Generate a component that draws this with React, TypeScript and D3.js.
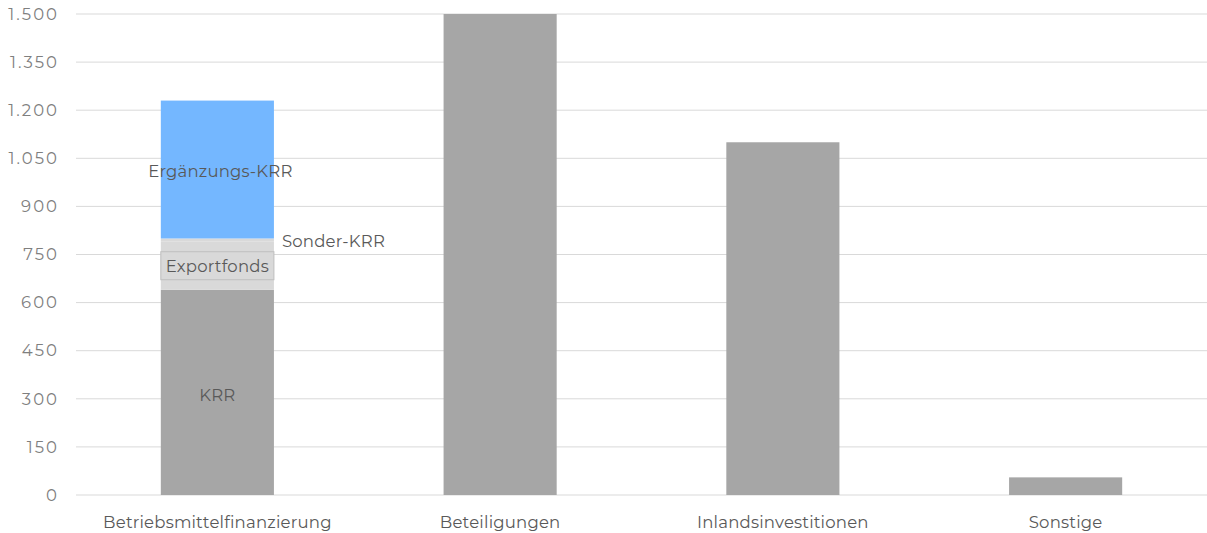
import React from "react";
import * as d3 from "d3";

const categories = ["Betriebsmittelfinanzierung", "Beteiligungen", "Inlandsinvestitionen", "Sonstige"];
const segmentNames = ["KRR", "Exportfonds", "Sonder-KRR", "Ergänzungs-KRR", "Gesamt"];
// values per category: KRR, Exportfonds, Sonder-KRR, Ergänzungs-KRR, single-bar total
const krr = [640, 0, 0, 0];
const exportfonds = [150, 0, 0, 0];
const sonderKrr = [10, 0, 0, 0];
const ergaenzungsKrr = [430, 0, 0, 0];
const gesamt = [0, 1500, 1100, 55];
const yTicks = [0, 150, 300, 450, 600, 750, 900, 1050, 1200, 1350, 1500];

const W = 1207;
const H = 533;
const left = 76;
const right = 1207;
const top = 14;
const bottom = 495;
const FONT = "Montserrat, 'Noto Sans', 'Open Sans', sans-serif";
const FS = 16.5;
const LS = 0.2;

const colors: Record<string, string> = {
  KRR: "#a6a6a6",
  Exportfonds: "#d9d9d9",
  "Sonder-KRR": "#d9d9d9",
  "Ergänzungs-KRR": "#74b7ff",
  Gesamt: "#a6a6a6",
};

export default function App() {
  const x = d3.scaleBand<string>().domain(categories).range([left, right]).paddingInner(0.6).paddingOuter(0.3);
  const y = d3.scaleLinear().domain([0, 1500]).range([bottom, top]);
  const fmt = d3.formatLocale({ decimal: ",", thousands: ".", grouping: [3], currency: ["", "€"] }).format(",d");

  const rows = categories.map((c, i) => ({
    cat: c,
    KRR: krr[i],
    Exportfonds: exportfonds[i],
    "Sonder-KRR": sonderKrr[i],
    "Ergänzungs-KRR": ergaenzungsKrr[i],
    Gesamt: gesamt[i],
  }));
  const stack = d3.stack<any>().keys(segmentNames)(rows);

  const bw = x.bandwidth();
  const c0 = x(categories[0])! + bw / 2;
  const seg = (name: string) => stack.find((s) => s.key === name)![0];
  const krrSeg = seg("KRR");
  const expSeg = seg("Exportfonds");
  const sonSeg = seg("Sonder-KRR");
  const ergSeg = seg("Ergänzungs-KRR");
  const mid = (s: any) => y((s[0] + s[1]) / 2);
  const label = { fontFamily: FONT, fontSize: FS, fill: "#595959", letterSpacing: LS } as const;

  return (
    <svg width={W} height={H} style={{ display: "block", position: "absolute", left: 0, top: 0 }}>
      <rect width={W} height={H} fill="#fff" />
      {yTicks.map((t) => (
        <g key={t}>
          <line x1={left} x2={right} y1={y(t)} y2={y(t)} stroke="#d9d9d9" strokeWidth={1} />
          <text x={59} y={y(t)} dy="0.35em" textAnchor="end" fontFamily={FONT} fontSize={16.5} letterSpacing={2} fill="#7f7f7f">
            {fmt(t)}
          </text>
        </g>
      ))}
      {stack.map((s) => (
        <g key={s.key} fill={colors[s.key]}>
          {s.map((d, i) =>
            d[1] - d[0] > 0 ? (
              <rect key={i} x={x(categories[i])} width={bw} y={y(d[1])} height={y(d[0]) - y(d[1])} />
            ) : null
          )}
        </g>
      ))}
      {categories.map((c) => (
        <text key={c} x={x(c)! + bw / 2} y={528} textAnchor="middle" {...label}>
          {c}
        </text>
      ))}
      <text x={c0 + 3} y={mid(ergSeg)} dy="0.45em" textAnchor="middle" {...label}>
        Ergänzungs-KRR
      </text>
      <text x={x(categories[0])! + bw + 8} y={mid(sonSeg)} dy="0.4em" textAnchor="start" {...label}>
        Sonder-KRR
      </text>
      <rect x={x(categories[0])} y={mid(expSeg) - 14} width={bw} height={28} fill="#d9d9d9" stroke="#bfbfbf" strokeWidth={1} />
      <text x={c0} y={mid(expSeg)} dy="0.4em" textAnchor="middle" {...label}>
        Exportfonds
      </text>
      <text x={c0} y={mid(krrSeg)} dy="0.5em" textAnchor="middle" {...label}>
        KRR
      </text>
    </svg>
  );
}
